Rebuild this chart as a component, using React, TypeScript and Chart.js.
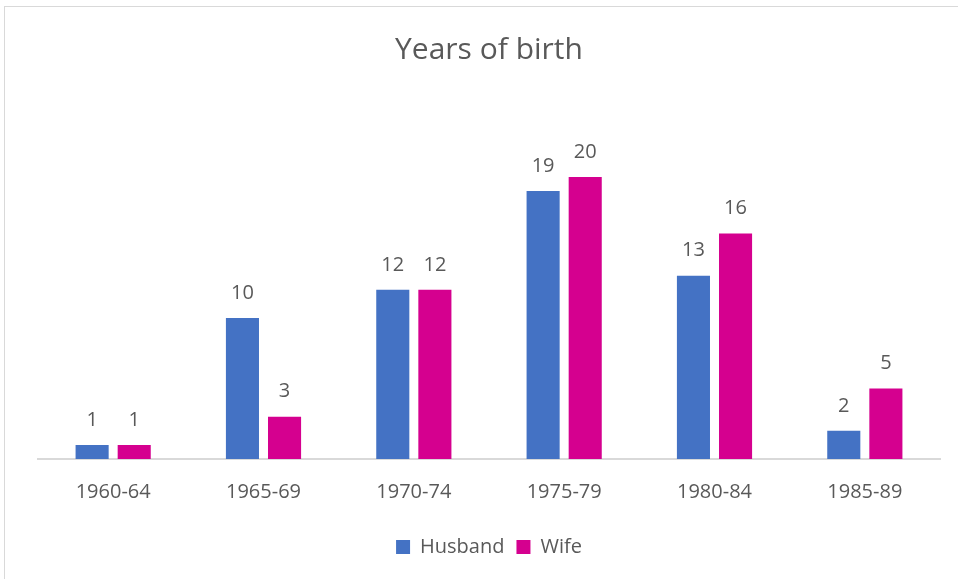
import React, { useEffect, useRef } from "react";
import { Chart, registerables } from "chart.js";

Chart.register(...registerables);

const categories = ["1960-64", "1965-69", "1970-74", "1975-79", "1980-84", "1985-89"];
const husband = [1, 10, 12, 19, 13, 2];
const wife = [1, 3, 12, 20, 16, 5];
const seriesNames = ["Husband", "Wife"];
const yMax = 25;

const FONT = "'Open Sans', 'Noto Sans', sans-serif";
const TEXT = "#595959";

const dataLabels = {
  id: "dataLabels",
  afterDatasetsDraw(chart: any) {
    const ctx = chart.ctx;
    ctx.save();
    ctx.font = `20px ${FONT}`;
    ctx.fillStyle = TEXT;
    ctx.textAlign = "center";
    ctx.textBaseline = "bottom";
    chart.data.datasets.forEach((ds: any, i: number) => {
      const meta = chart.getDatasetMeta(i);
      meta.data.forEach((el: any, j: number) => {
        ctx.fillText(String(ds.data[j]), el.x, el.y - 15);
      });
    });
    ctx.restore();
  },
};

export default function App() {
  const ref = useRef<HTMLCanvasElement>(null);
  useEffect(() => {
    const chart = new Chart(ref.current!, {
      type: "bar",
      data: {
        labels: categories,
        datasets: [
          { label: seriesNames[0], data: husband, backgroundColor: "#4472C4" },
          { label: seriesNames[1], data: wife, backgroundColor: "#D5008F" },
        ],
      },
      options: {
        animation: false,
        responsive: false,
        maintainAspectRatio: false,
        layout: { padding: { left: 38, right: 18, top: 0, bottom: 12 } },
        datasets: { bar: { categoryPercentage: 0.56, barPercentage: 0.786 } },
        scales: {
          x: {
            grid: { display: false, drawTicks: false },
            border: { display: true, color: "#d9d9d9", width: 2 },
            ticks: { color: TEXT, font: { family: FONT, size: 20 }, padding: 21 },
          },
          y: { display: false, min: 0, max: yMax },
        },
        plugins: {
          title: {
            display: true,
            text: "Years of birth",
            color: TEXT,
            font: { family: FONT, size: 30, weight: "normal" },
            padding: { top: 32, bottom: 38.5 },
          },
          legend: {
            position: "bottom",
            labels: {
              color: TEXT,
              font: { family: FONT, size: 20 },
              boxWidth: 14,
              boxHeight: 14,
              padding: 12,
            },
          },
          tooltip: { enabled: false },
        },
      },
      plugins: [dataLabels],
    });
    return () => chart.destroy();
  }, []);
  return (
    <div style={{ position: "fixed", left: 0, top: 0, width: 958, height: 579, background: "#fff", overflow: "hidden" }}>
      <div style={{ position: "absolute", left: 4, top: 6, width: 980, height: 600, border: "1px solid #d9d9d9" }} />
      <canvas ref={ref} width={958} height={579} style={{ position: "absolute", left: 0, top: 0 }} />
    </div>
  );
}
